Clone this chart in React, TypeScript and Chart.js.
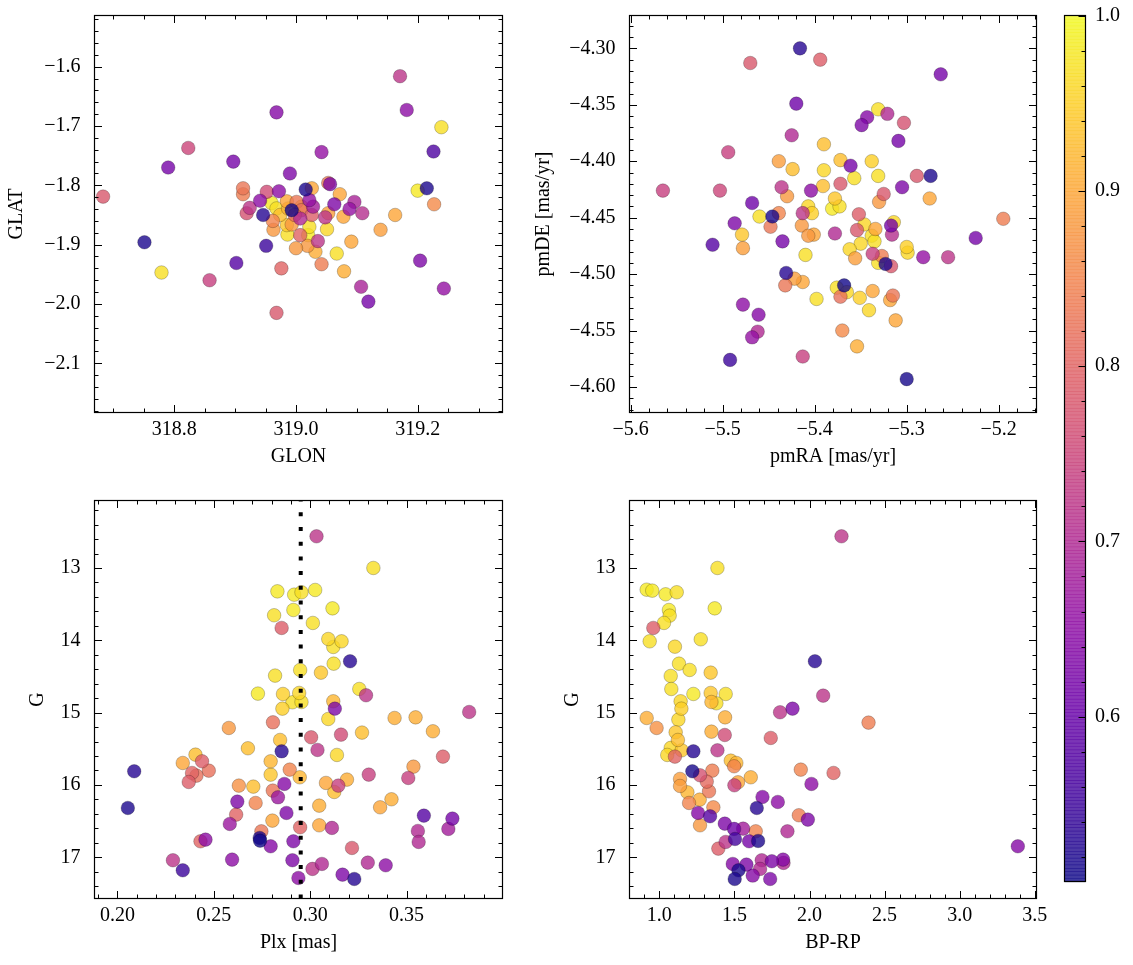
import React, { useEffect, useRef } from "react";
import { Chart, registerables } from "chart.js";

Chart.register(...registerables);

const FONT_FAMILY = "'Liberation Serif', 'Times New Roman', serif";
const FONT_SIZE = 20;

// ---------------- colour scale (membership probability) ----------------
const PROB_MIN = 0.506;
const PROB_MAX = 1.0;
const CBAR_TICKS = [0.6, 0.7, 0.8, 0.9, 1.0];

// ---------------- panel 1 : GLON / GLAT ----------------
const GLON = [
  318.683, 318.751, 318.779, 318.790, 318.823, 318.858, 318.897, 318.902, 318.968, 318.968,
  318.976, 318.951, 318.990, 319.042, 319.171, 319.182, 319.239, 319.226, 319.200, 319.215,
  319.227, 319.204, 319.243, 319.107, 319.119, 319.163, 319.139, 319.091, 319.079, 319.067,
  319.042, 319.032, 319.019, 319.000, 319.036, 319.051, 319.020, 319.007, 318.986, 318.963,
  318.962, 318.974, 318.985, 319.022, 318.946, 318.919, 318.924, 318.941, 318.960, 318.968,
  318.952, 318.972, 318.913, 318.913, 318.985, 318.987, 318.993, 319.001, 319.009, 319.007,
  319.026, 319.022, 319.028, 319.016, 319.026, 319.053, 319.056, 319.072, 319.063, 319.053,
  319.048, 319.078, 319.088, 319.096, 319.109, 318.993, 318.998, 319.009,
];
const GLAT = [
  -1.819, -1.896, -1.947, -1.770, -1.737, -1.960, -1.760, -1.931, -1.677, -2.015,
  -1.940, -1.902, -1.780, -1.744, -1.616, -1.673, -1.702, -1.743, -1.809, -1.805,
  -1.832, -1.927, -1.974, -1.971, -1.996, -1.850, -1.875, -1.895, -1.945, -1.915,
  -1.933, -1.912, -1.902, -1.906, -1.894, -1.874, -1.884, -1.884, -1.883, -1.875,
  -1.860, -1.850, -1.867, -1.870, -1.850, -1.847, -1.838, -1.826, -1.830, -1.839,
  -1.811, -1.810, -1.805, -1.815, -1.827, -1.839, -1.842, -1.828, -1.842, -1.856,
  -1.850, -1.825, -1.836, -1.807, -1.805, -1.796, -1.798, -1.815, -1.832, -1.847,
  -1.854, -1.853, -1.840, -1.828, -1.847, -1.866, -1.850, -1.836,
];
const PROB_SKY = [
  0.78, 0.52, 0.97, 0.62, 0.75, 0.74, 0.62, 0.58, 0.64, 0.78,
  0.80, 0.55, 0.63, 0.66, 0.72, 0.65, 0.97, 0.57, 0.98, 0.52,
  0.86, 0.63, 0.66, 0.69, 0.62, 0.90, 0.89, 0.90, 0.91, 0.97,
  0.84, 0.91, 0.88, 0.88, 0.72, 0.96, 0.98, 0.80, 0.97, 0.88,
  0.85, 0.93, 0.94, 0.97, 0.53, 0.77, 0.72, 0.65, 0.98, 0.97,
  0.76, 0.65, 0.83, 0.84, 0.90, 0.92, 0.51, 0.83, 0.82, 0.70,
  0.79, 0.66, 0.68, 0.52, 0.90, 0.83, 0.63, 0.90, 0.63, 0.89,
  0.72, 0.90, 0.66, 0.69, 0.71, 0.88, 0.82, 0.93,
];

// ---------------- panel 2 : pmRA / pmDE ----------------
const PMRA = [
  -5.416, -5.470, -5.394, -5.263, -5.420, -5.331, -5.343, -5.349, -5.321, -5.303,
  -5.425, -5.309, -5.494, -5.390, -5.439, -5.424, -5.390, -5.372, -5.361, -5.338,
  -5.357, -5.331, -5.274, -5.289, -5.305, -5.565, -5.503, -5.436, -5.404, -5.391,
  -5.372, -5.430, -5.325, -5.330, -5.275, -5.468, -5.378, -5.381, -5.373, -5.407,
  -5.403, -5.413, -5.439, -5.446, -5.460, -5.448, -5.487, -5.479, -5.478, -5.511,
  -5.435, -5.414, -5.407, -5.401, -5.378, -5.352, -5.354, -5.346, -5.334, -5.338,
  -5.335, -5.350, -5.362, -5.356, -5.314, -5.317, -5.316, -5.337, -5.327, -5.331,
  -5.323, -5.317, -5.300, -5.299, -5.282, -5.255, -5.225, -5.195, -5.410, -5.431,
  -5.422, -5.413, -5.432, -5.398, -5.376, -5.368, -5.365, -5.372, -5.351, -5.337,
  -5.341, -5.315, -5.318, -5.312, -5.478, -5.461, -5.462, -5.468, -5.370, -5.354,
  -5.413, -5.492, -5.300,
];
const PMDE = [
  -4.300, -4.313, -4.310, -4.323, -4.349, -4.354, -4.361, -4.368, -4.358, -4.366,
  -4.377, -4.382, -4.392, -4.385, -4.400, -4.407, -4.408, -4.399, -4.404, -4.400,
  -4.415, -4.413, -4.413, -4.413, -4.423, -4.426, -4.426, -4.423, -4.426, -4.422,
  -4.420, -4.431, -4.429, -4.436, -4.433, -4.437, -4.433, -4.442, -4.440, -4.440,
  -4.446, -4.446, -4.446, -4.449, -4.449, -4.458, -4.455, -4.465, -4.477, -4.474,
  -4.471, -4.457, -4.466, -4.465, -4.464, -4.447, -4.461, -4.456, -4.460, -4.466,
  -4.471, -4.473, -4.478, -4.486, -4.454, -4.457, -4.465, -4.482, -4.484, -4.490,
  -4.491, -4.493, -4.476, -4.481, -4.485, -4.485, -4.468, -4.451, -4.483, -4.499,
  -4.504, -4.507, -4.510, -4.522, -4.512, -4.510, -4.516, -4.520, -4.521, -4.515,
  -4.532, -4.519, -4.523, -4.541, -4.527, -4.536, -4.551, -4.556, -4.550, -4.564,
  -4.573, -4.576, -4.593,
];
const PROB_PM = [
  0.53, 0.78, 0.79, 0.62, 0.61, 0.97, 0.64, 0.63, 0.70, 0.77,
  0.70, 0.62, 0.74, 0.93, 0.89, 0.93, 0.96, 0.93, 0.62, 0.95,
  0.97, 0.97, 0.52, 0.78, 0.63, 0.74, 0.75, 0.72, 0.65, 0.93,
  0.78, 0.88, 0.78, 0.88, 0.90, 0.61, 0.94, 0.98, 0.97, 0.96,
  0.95, 0.72, 0.85, 0.515, 0.97, 0.83, 0.63, 0.94, 0.89, 0.58,
  0.62, 0.88, 0.88, 0.90, 0.70, 0.79, 0.78, 0.96, 0.90, 0.97,
  0.97, 0.96, 0.96, 0.89, 0.96, 0.62, 0.71, 0.74, 0.84, 0.97,
  0.52, 0.78, 0.95, 0.96, 0.66, 0.72, 0.62, 0.84, 0.97, 0.53,
  0.89, 0.90, 0.83, 0.97, 0.97, 0.51, 0.96, 0.82, 0.95, 0.90,
  0.96, 0.83, 0.90, 0.90, 0.65, 0.64, 0.70, 0.66, 0.86, 0.91,
  0.74, 0.55, 0.515,
];

// ---------------- panel 3 : Plx / G ----------------
const PLX = [
  0.3033, 0.3328, 0.2830, 0.2917, 0.2955, 0.3026, 0.2913, 0.3116, 0.2813, 0.3014,
  0.2852, 0.3094, 0.3163, 0.3120, 0.3207, 0.3122, 0.2948, 0.3056, 0.2818, 0.2729,
  0.2859, 0.2943, 0.2908, 0.2955, 0.2856, 0.3255, 0.3290, 0.3120, 0.3128, 0.3094,
  0.3825, 0.3438, 0.3547, 0.3637, 0.3689, 0.3536, 0.3509, 0.3304, 0.3269, 0.3160,
  0.3005, 0.3038, 0.3139, 0.2807, 0.2578, 0.2844, 0.2677, 0.2852, 0.2795, 0.2795,
  0.2894, 0.2946, 0.3082, 0.3146, 0.3125, 0.3191, 0.2866, 0.2806, 0.2833, 0.2630,
  0.2705, 0.2717, 0.2622, 0.2616, 0.2583, 0.2877, 0.3047, 0.2804, 0.2948, 0.3047,
  0.3113, 0.2747, 0.2738, 0.2740, 0.2795, 0.2913, 0.2457, 0.2431, 0.3363, 0.3422,
  0.3590, 0.3738, 0.3717, 0.3559, 0.3563, 0.3217, 0.3168, 0.3229, 0.3299, 0.3392,
  0.3061, 0.3012, 0.2939, 0.2908, 0.2595, 0.2288, 0.2339, 0.2054, 0.2087, 0.2339,
  0.2405, 0.2439, 0.2474, 0.2387, 0.2410, 0.2370,
];
const G_PLX = [
  12.562, 13.000, 13.323, 13.369, 13.336, 13.304, 13.581, 13.558, 13.654, 13.760,
  13.829, 13.982, 14.014, 14.092, 14.290, 14.323, 14.410, 14.447, 14.488, 14.737,
  14.742, 14.728, 14.857, 14.853, 14.945, 14.673, 14.760, 14.843, 14.945, 15.088,
  14.991, 15.074, 15.065, 15.258, 15.608, 15.747, 15.903, 15.857, 15.276, 15.304,
  15.341, 15.516, 15.585, 15.134, 15.212, 15.378, 15.493, 15.535, 15.673, 15.857,
  15.788, 15.894, 15.972, 16.009, 16.097, 15.926, 15.986, 16.078, 16.171, 16.009,
  16.023, 16.249, 16.230, 16.410, 16.539, 16.387, 16.286, 16.493, 16.585, 16.558,
  16.594, 16.641, 16.733, 16.770, 16.848, 16.779, 16.756, 16.779, 16.309, 16.198,
  16.424, 16.465, 16.608, 16.636, 16.788, 16.871, 17.240, 17.300, 17.074, 17.111,
  17.092, 17.161, 17.286, 17.041, 17.032, 17.041, 17.180, 16.318, 15.811, 15.696,
  15.581, 15.673, 15.802, 15.834, 15.871, 15.959,
];
const PROB_PLX = [
  0.72, 0.97, 0.98, 0.98, 0.97, 0.98, 0.98, 0.98, 0.97, 0.97,
  0.79, 0.96, 0.96, 0.97, 0.53, 0.97, 0.97, 0.94, 0.97, 0.98,
  0.95, 0.96, 0.97, 0.97, 0.95, 0.97, 0.72, 0.92, 0.63, 0.96,
  0.72, 0.91, 0.91, 0.91, 0.79, 0.88, 0.74, 0.74, 0.93, 0.76,
  0.78, 0.72, 0.96, 0.82, 0.88, 0.93, 0.93, 0.53, 0.92, 0.94,
  0.85, 0.92, 0.90, 0.74, 0.93, 0.91, 0.64, 0.83, 0.67, 0.87,
  0.93, 0.85, 0.63, 0.80, 0.67, 0.63, 0.91, 0.90, 0.80, 0.90,
  0.70, 0.83, 0.52, 0.51, 0.64, 0.63, 0.65, 0.80, 0.90, 0.91,
  0.58, 0.62, 0.68, 0.70, 0.70, 0.78, 0.63, 0.53, 0.70, 0.65,
  0.70, 0.72, 0.65, 0.63, 0.65, 0.72, 0.55, 0.52, 0.53, 0.90,
  0.93, 0.79, 0.82, 0.80, 0.82, 0.79,
];
const PLX_REF = 0.2951;

// ---------------- panel 4 : BP-RP / G ----------------
const BPRP = [
  2.213, 1.387, 0.916, 0.953, 1.042, 1.116, 1.064, 1.369, 1.069, 1.031,
  0.960, 0.936, 1.104, 1.276, 2.036, 1.131, 1.202, 1.076, 1.342, 1.080,
  1.227, 1.342, 1.442, 1.142, 1.347, 1.380, 1.147, 1.127, 2.091, 1.887,
  1.804, 0.916, 1.438, 2.393, 0.982, 1.347, 1.436, 1.742, 1.109, 1.124,
  1.076, 1.149, 1.227, 1.053, 1.104, 1.387, 1.476, 1.513, 1.498, 1.609,
  1.942, 2.160, 1.220, 1.271, 1.353, 1.138, 1.316, 1.138, 1.331, 1.524,
  1.500, 1.187, 1.269, 1.198, 1.360, 1.258, 1.338, 1.271, 1.649, 1.687,
  1.789, 2.013, 1.929, 1.989, 1.436, 1.498, 1.558, 1.642, 1.853, 1.504,
  1.598, 1.658, 1.442, 1.393, 1.489, 1.580, 1.682, 1.749, 1.824, 1.827,
  1.527, 1.622, 1.671, 1.738, 1.502, 3.387,
];
const G_CMD = [
  12.562, 13.000, 13.300, 13.313, 13.364, 13.336, 13.581, 13.558, 13.659, 13.760,
  13.829, 14.014, 14.088, 13.986, 14.290, 14.323, 14.410, 14.493, 14.447, 14.673,
  14.742, 14.728, 14.742, 14.843, 14.853, 14.871, 14.945, 15.097, 14.765, 14.945,
  14.995, 15.074, 15.065, 15.138, 15.212, 15.263, 15.309, 15.350, 15.272, 15.378,
  15.488, 15.521, 15.535, 15.585, 15.608, 15.521, 15.664, 15.696, 15.742, 15.894,
  15.788, 15.834, 15.811, 15.866, 15.802, 15.917, 15.954, 16.014, 16.088, 15.963,
  16.005, 16.101, 16.203, 16.249, 16.309, 16.387, 16.433, 16.558, 16.318, 16.166,
  16.235, 15.986, 16.419, 16.479, 16.535, 16.608, 16.604, 16.641, 16.641, 16.747,
  16.779, 16.774, 16.788, 16.880, 17.092, 17.101, 17.041, 17.055, 17.032, 17.078,
  17.180, 17.253, 17.161, 17.300, 17.300, 16.848,
];
const PROB_CMD = [
  0.72, 0.97, 0.98, 0.98, 0.98, 0.97, 0.98, 0.98, 0.97, 0.97,
  0.79, 0.97, 0.96, 0.97, 0.53, 0.97, 0.97, 0.97, 0.94, 0.97,
  0.98, 0.94, 0.97, 0.96, 0.92, 0.97, 0.95, 0.96, 0.72, 0.63,
  0.72, 0.91, 0.91, 0.84, 0.87, 0.91, 0.76, 0.79, 0.94, 0.93,
  0.96, 0.94, 0.53, 0.96, 0.80, 0.72, 0.93, 0.92, 0.85, 0.91,
  0.85, 0.80, 0.515, 0.77, 0.84, 0.89, 0.81, 0.89, 0.83, 0.90,
  0.74, 0.92, 0.91, 0.85, 0.86, 0.64, 0.58, 0.88, 0.53, 0.64,
  0.65, 0.65, 0.84, 0.63, 0.63, 0.61, 0.68, 0.85, 0.70, 0.56,
  0.62, 0.52, 0.72, 0.79, 0.64, 0.63, 0.70, 0.63, 0.64, 0.70,
  0.52, 0.64, 0.70, 0.63, 0.52, 0.64,
];

// ---------------- axis ranges and tick labels ----------------
const GLON_RANGE = [318.6689, 319.3394];
const GLON_TICKS = [318.8, 319.0, 319.2];
const GLAT_RANGE = [-2.183, -1.5137];
const GLAT_TICKS = [-1.6, -1.7, -1.8, -1.9, -2.0, -2.1];
const PMRA_RANGE = [-5.6013, -5.1589];
const PMRA_TICKS = [-5.6, -5.5, -5.4, -5.3, -5.2];
const PMDE_RANGE = [-4.6226, -4.2709];
const PMDE_TICKS = [-4.3, -4.35, -4.4, -4.45, -4.5, -4.55, -4.6];
const PLX_RANGE = [0.1881, 0.3998];
const PLX_TICKS = [0.2, 0.25, 0.3, 0.35];
const BPRP_RANGE = [0.8016, 3.5113];
const BPRP_TICKS = [1.0, 1.5, 2.0, 2.5, 3.0, 3.5];
const G_RANGE = [12.067, 17.57];
const G_TICKS = [13, 14, 15, 16, 17];

// ---------------- helpers ----------------
const PLASMA = [
  [13, 8, 135], [65, 4, 157], [106, 0, 168], [143, 13, 164], [177, 42, 144],
  [204, 71, 120], [225, 100, 98], [242, 132, 75], [252, 166, 54], [252, 206, 37], [240, 249, 33],
];
function plasma(t: number, a: number) {
  const c = Math.max(0, Math.min(1, t)) * (PLASMA.length - 1);
  const i = Math.min(PLASMA.length - 2, Math.floor(c));
  const f = c - i;
  const col = PLASMA[i].map((v, k) => Math.round(v + (PLASMA[i + 1][k] - v) * f));
  return `rgba(${col[0]},${col[1]},${col[2]},${a})`;
}
const norm = (p: number) => (p - PROB_MIN) / (PROB_MAX - PROB_MIN);
const fmt = (v: number, d: number) => v.toFixed(d).replace("-", "\u2212");
function minorValues(range: number[], step: number) {
  const out: number[] = [];
  const lo = Math.min(range[0], range[1]);
  const hi = Math.max(range[0], range[1]);
  for (let k = Math.ceil(lo / step - 1e-9); k <= Math.floor(hi / step + 1e-9); k++) out.push(k * step);
  return out;
}

type Axis = {
  range: number[]; ticks: number[]; minor: number; decimals: number;
  title: string; titlePad: number; reverse?: boolean;
};
type Spec = {
  box: { x: number; y: number; w: number; h: number };
  area: { l: number; t: number; r: number; b: number };
  x: Axis; y: Axis; xs: number[]; ys: number[]; ps: number[]; vline?: number;
};

const font = { family: FONT_FAMILY, size: FONT_SIZE };

function frameTicks(spec: Spec) {
  return {
    id: "frameTicks",
    afterDatasetsDraw(chart: any) {
      const { ctx, chartArea: a } = chart;
      const sx = chart.scales.x;
      const sy = chart.scales.y;
      ctx.save();
      ctx.strokeStyle = "#000";
      ctx.lineWidth = 1;
      ctx.beginPath();
      const doX = (vals: number[], len: number) => {
        for (const v of vals) {
          const p = Math.round(sx.getPixelForValue(v)) + 0.5;
          if (p < a.left - 0.6 || p > a.right + 0.6) continue;
          ctx.moveTo(p, a.bottom); ctx.lineTo(p, a.bottom - len);
          ctx.moveTo(p, a.top); ctx.lineTo(p, a.top + len);
        }
      };
      const doY = (vals: number[], len: number) => {
        for (const v of vals) {
          const p = Math.round(sy.getPixelForValue(v)) + 0.5;
          if (p < a.top - 0.6 || p > a.bottom + 0.6) continue;
          ctx.moveTo(a.left, p); ctx.lineTo(a.left + len, p);
          ctx.moveTo(a.right, p); ctx.lineTo(a.right - len, p);
        }
      };
      doX(minorValues(spec.x.range, spec.x.minor), 4);
      doX(spec.x.ticks, 7.5);
      doY(minorValues(spec.y.range, spec.y.minor), 4);
      doY(spec.y.ticks, 7.5);
      ctx.stroke();
      ctx.lineWidth = 1.2;
      ctx.strokeRect(a.left, a.top, a.right - a.left, a.bottom - a.top);
      ctx.restore();
    },
  };
}

function scaleCfg(ax: Axis, horizontal: boolean, size: number) {
  return {
    type: "linear",
    position: horizontal ? "bottom" : "left",
    min: ax.range[0],
    max: ax.range[1],
    reverse: !!ax.reverse,
    grid: { display: false, drawTicks: false },
    border: { display: false },
    ticks: {
      padding: horizontal ? 5.5 : 14,
      font,
      color: "#000",
      autoSkip: false,
      maxRotation: 0,
      minRotation: 0,
      includeBounds: false,
      callback: (v: number) => fmt(v, ax.decimals),
    },
    afterBuildTicks: (s: any) => {
      s.ticks = ax.ticks.map((v) => ({ value: v }));
    },
    afterFit: (s: any) => {
      if (horizontal) s.height = size;
      else s.width = size;
    },
    title: {
      display: true,
      text: ax.title,
      font,
      color: "#000",
      padding: horizontal ? { top: 0, bottom: ax.titlePad } : { top: ax.titlePad, bottom: 0 },
    },
  };
}

function buildConfig(spec: Spec): any {
  const { box, area } = spec;
  const order = spec.ps.map((_, i) => i).sort((a, b) => spec.ps[b] - spec.ps[a]);
  const points = order.map((i) => ({ x: spec.xs[i], y: spec.ys[i] }));
  const colors = order.map((i) => plasma(norm(spec.ps[i]), 0.8));
  const datasets: any[] = [];
  if (spec.vline !== undefined) {
    datasets.push({
      type: "line",
      data: [
        { x: spec.vline, y: spec.y.range[1] },
        { x: spec.vline, y: spec.y.range[0] },
      ],
      showLine: true,
      borderColor: "#000",
      borderWidth: 4,
      borderDash: [4, 10.7],
      borderCapStyle: "butt",
      pointRadius: 0,
      order: -1,
    });
  }
  datasets.push({
    type: "scatter",
    data: points,
    showLine: false,
    pointBackgroundColor: colors,
    pointBorderColor: "rgba(0,0,0,0.45)",
    pointBorderWidth: 0.5,
    pointRadius: 6.8,
    pointHoverRadius: 6.8,
    order: 0,
  });
  return {
    type: "scatter",
    data: { datasets },
    options: {
      responsive: false,
      maintainAspectRatio: false,
      animation: false,
      devicePixelRatio: 1,
      events: [],
      layout: {
        padding: { left: 0, top: area.t - box.y, right: box.x + box.w - area.r, bottom: 0 },
      },
      plugins: { legend: { display: false }, tooltip: { enabled: false } },
      scales: {
        x: scaleCfg(spec.x, true, box.y + box.h - area.b),
        y: scaleCfg(spec.y, false, area.l - box.x),
      },
    },
    plugins: [frameTicks(spec)],
  };
}

const SPECS: Spec[] = [
  {
    box: { x: 0, y: -20, w: 515, h: 502 },
    area: { l: 94.5, t: 15.5, r: 502.5, b: 412.5 },
    x: { range: GLON_RANGE, ticks: GLON_TICKS, minor: 0.05, decimals: 1, title: "GLON", titlePad: 13 },
    y: { range: GLAT_RANGE, ticks: GLAT_TICKS, minor: 0.02, decimals: 1, title: "GLAT", titlePad: 4.5 },
    xs: GLON, ys: GLAT, ps: PROB_SKY,
  },
  {
    box: { x: 520, y: -20, w: 540, h: 502 },
    area: { l: 629.5, t: 15.5, r: 1036.5, b: 412.5 },
    x: { range: PMRA_RANGE, ticks: PMRA_TICKS, minor: 0.02, decimals: 1, title: "pmRA [mas/yr]", titlePad: 13 },
    y: { range: PMDE_RANGE, ticks: PMDE_TICKS, minor: 0.01, decimals: 2, title: "pmDE [mas/yr]", titlePad: 12 },
    xs: PMRA, ys: PMDE, ps: PROB_PM,
  },
  {
    box: { x: 0, y: 465, w: 515, h: 500 },
    area: { l: 94.5, t: 500.5, r: 502.5, b: 898.5 },
    x: { range: PLX_RANGE, ticks: PLX_TICKS, minor: 0.01, decimals: 2, title: "Plx [mas]", titlePad: 10 },
    y: { range: G_RANGE, ticks: G_TICKS, minor: 0.2, decimals: 0, title: "G", titlePad: 26, reverse: true },
    xs: PLX, ys: G_PLX, ps: PROB_PLX, vline: PLX_REF,
  },
  {
    box: { x: 520, y: 465, w: 540, h: 500 },
    area: { l: 629.5, t: 500.5, r: 1036.5, b: 898.5 },
    x: { range: BPRP_RANGE, ticks: BPRP_TICKS, minor: 0.1, decimals: 1, title: "BP-RP", titlePad: 10 },
    y: { range: G_RANGE, ticks: G_TICKS, minor: 0.2, decimals: 0, title: "G", titlePad: 41, reverse: true },
    xs: BPRP, ys: G_CMD, ps: PROB_CMD,
  },
];

function Panel({ spec }: { spec: Spec }) {
  const ref = useRef<HTMLCanvasElement>(null);
  useEffect(() => {
    const chart = new Chart(ref.current as HTMLCanvasElement, buildConfig(spec));
    return () => chart.destroy();
  }, [spec]);
  const { box } = spec;
  return (
    <canvas
      ref={ref}
      width={box.w}
      height={box.h}
      style={{ position: "absolute", left: box.x, top: box.y, width: box.w, height: box.h }}
    />
  );
}

const CB_BOX = { x: 1040, y: -20, w: 93, h: 930 };
const CB_AREA = { l: 1064.5, t: 15.5, r: 1085.5, b: 881.5 };

function ColorBar() {
  const ref = useRef<HTMLCanvasElement>(null);
  useEffect(() => {
    const gradient = {
      id: "gradient",
      beforeDatasetsDraw(chart: any) {
        const { ctx, chartArea: a } = chart;
        const sy = chart.scales.y;
        const n = 256;
        ctx.save();
        for (let i = 0; i < n; i++) {
          const v0 = PROB_MIN + ((PROB_MAX - PROB_MIN) * i) / n;
          const v1 = PROB_MIN + ((PROB_MAX - PROB_MIN) * (i + 1)) / n;
          const y0 = sy.getPixelForValue(v0);
          const y1 = sy.getPixelForValue(v1);
          ctx.fillStyle = plasma(norm((v0 + v1) / 2), 0.8);
          ctx.fillRect(a.left, y1, a.right - a.left, y0 - y1 + 0.6);
        }
        ctx.restore();
      },
      afterDraw(chart: any) {
        const { ctx, chartArea: a } = chart;
        const sy = chart.scales.y;
        ctx.save();
        ctx.strokeStyle = "#000";
        ctx.lineWidth = 1;
        ctx.beginPath();
        for (const v of minorValues([PROB_MIN, PROB_MAX], 0.02)) {
          const p = Math.round(sy.getPixelForValue(v)) + 0.5;
          if (p < a.top || p > a.bottom) continue;
          ctx.moveTo(a.right, p); ctx.lineTo(a.right - 4, p);
        }
        for (const v of CBAR_TICKS) {
          const p = Math.round(sy.getPixelForValue(v)) + 0.5;
          ctx.moveTo(a.right, p); ctx.lineTo(a.right - 7, p);
        }
        ctx.stroke();
        ctx.lineWidth = 1.2;
        ctx.strokeRect(a.left, a.top, a.right - a.left, a.bottom - a.top);
        ctx.restore();
      },
    };
    const chart = new Chart(ref.current as HTMLCanvasElement, {
      type: "scatter",
      data: { datasets: [] },
      options: {
        responsive: false,
        maintainAspectRatio: false,
        animation: false,
        devicePixelRatio: 1,
        events: [],
        layout: {
          padding: {
            left: CB_AREA.l - CB_BOX.x,
            top: CB_AREA.t - CB_BOX.y,
            right: 0,
            bottom: CB_BOX.y + CB_BOX.h - CB_AREA.b,
          },
        },
        plugins: { legend: { display: false }, tooltip: { enabled: false } },
        scales: {
          x: { type: "linear", display: false, min: 0, max: 1 },
          y: {
            type: "linear",
            position: "right",
            min: PROB_MIN,
            max: PROB_MAX,
            grid: { display: false, drawTicks: false },
            border: { display: false },
            ticks: {
              padding: 9.5,
              font,
              color: "#000",
              autoSkip: false,
              includeBounds: false,
              callback: (v: number) => fmt(v, 1),
            },
            afterBuildTicks: (s: any) => {
              s.ticks = CBAR_TICKS.map((v) => ({ value: v }));
            },
            afterFit: (s: any) => {
              s.width = CB_BOX.x + CB_BOX.w - CB_AREA.r;
            },
          },
        },
      } as any,
      plugins: [gradient],
    } as any);
    return () => chart.destroy();
  }, []);
  return (
    <canvas
      ref={ref}
      width={CB_BOX.w}
      height={CB_BOX.h}
      style={{ position: "absolute", left: CB_BOX.x, top: CB_BOX.y, width: CB_BOX.w, height: CB_BOX.h }}
    />
  );
}

export default function App() {
  return (
    <div style={{ position: "absolute", left: 0, top: 0, width: 1133, height: 965, background: "#fff", overflow: "hidden" }}>
      {SPECS.map((s, i) => (
        <Panel key={i} spec={s} />
      ))}
      <ColorBar />
    </div>
  );
}
